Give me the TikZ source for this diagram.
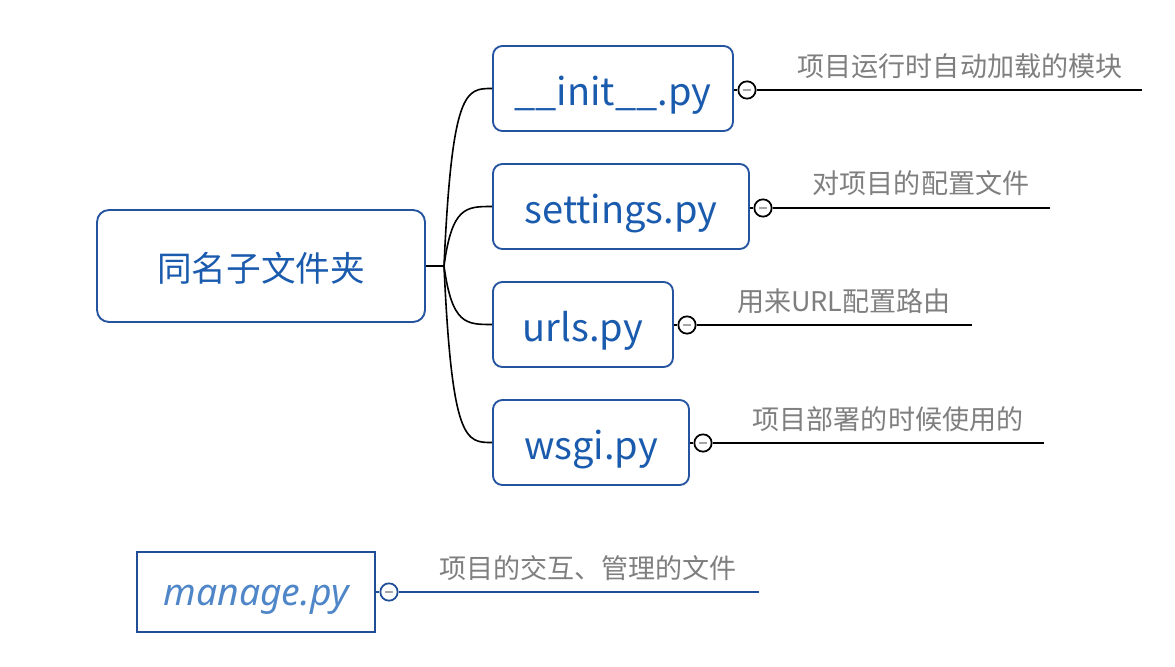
\documentclass[tikz,border=0pt]{standalone}
\usepackage{fontspec}
\setmainfont{Noto Sans CJK SC}
\newfontfamily\itfont{Noto Sans}
\definecolor{boxblue}{HTML}{2453A0}
\definecolor{txtblue}{HTML}{1A5BAE}
\definecolor{lightblue}{HTML}{4F86C8}
\definecolor{darkblue}{HTML}{1F4E96}
\definecolor{lblgray}{HTML}{7F7F7F}
\begin{document}
\begin{tikzpicture}[x=0.75pt,y=-0.75pt,
  filebox/.style={draw=boxblue,line width=1.4pt,rounded corners=7pt,inner sep=0pt,
    minimum height=63.75pt,text=txtblue,font=\fontsize{28.5}{32}\selectfont,
    text height=28pt,text depth=3.2pt},
  knob/.style={circle,draw=black,fill=white,line width=1.3pt,minimum size=13pt,inner sep=0pt},
  minus/.style={draw=lblgray!70,line width=0.9pt},
  branch/.style={draw=black,line width=1.2pt},
  note/.style={text=lblgray,font=\fontsize{20.3}{24}\selectfont,inner sep=0pt}]
\useasboundingbox (0,0) rectangle (1175,667);
% main node
\node[filebox,rounded corners=9pt,minimum width=246pt,minimum height=84pt,
  font=\fontsize{26}{30}\selectfont,text height=26pt,text depth=3.5pt] (main) at (261,266) {同名子文件夹};
\node[filebox,minimum width=180pt] (init) at (613,88.5) {\_\_init\_\_.py};
\node[filebox,minimum width=192pt] (set) at (621,206.5) {settings.py};
\node[filebox,minimum width=135pt] (url) at (583,324.5) {urls.py};
\node[filebox,minimum width=147pt] (wsgi) at (591,442.5) {wsgi.py};
\coordinate (j) at (444,266);
\draw[branch] (main.east) -- (j);
\foreach \n in {init,set,url,wsgi}{
  \draw[branch] (j) .. controls (452,266 |- \n.west) and (466,266 |- \n.west) .. (\n.west);
}
% knobs and lines
\node[knob] (k1) at (747,90) {};
\node[knob] (k2) at (763,208) {};
\node[knob] (k3) at (687,325) {};
\node[knob] (k4) at (703,443) {};
\coordinate (e1) at (1142,90);
\coordinate (e2) at (1050,208);
\coordinate (e3) at (972,325);
\coordinate (e4) at (1044,443);
\draw[branch] (init.east |- k1) -- (k1.west);
\draw[branch] (set.east |- k2) -- (k2.west);
\draw[branch] (url.east |- k3) -- (k3.west);
\draw[branch] (wsgi.east |- k4) -- (k4.west);
\draw[branch] (k1.east) -- (e1);
\draw[branch] (k2.east) -- (e2);
\draw[branch] (k3.east) -- (e3);
\draw[branch] (k4.east) -- (e4);
\foreach \k in {k1,k2,k3,k4}{\draw[minus] ([xshift=-3pt]\k.center) -- ([xshift=3pt]\k.center);}
\node[note] (n1) at (960,66) {项目运行时自动加载的模块};
\node[note] (n2) at (921,183) {对项目的配置文件};
\node[note] (n3) at (844,301) {用来URL配置路由};
\node[note] (n4) at (888,419) {项目部署的时候使用的};
% manage.py
\node[draw=darkblue,line width=1.4pt,inner sep=0pt,minimum width=178.5pt,minimum height=60pt,
  text=lightblue,font=\itfont\itshape\fontsize{28}{32}\selectfont,text height=24pt,text depth=4.5pt] (man) at (256,592) {manage.py};
\node[knob,draw=darkblue] (k5) at (389,592) {};
\coordinate (e5) at (759,592);
\draw[branch,draw=darkblue] (man.east |- k5) -- (k5.west);
\draw[branch,draw=darkblue] (k5.east) -- (e5);
\draw[minus] ([xshift=-3pt]k5.center) -- ([xshift=3pt]k5.center);
\node[note] (n5) at (588,568) {项目的交互、管理的文件};
\end{tikzpicture}
\end{document}
